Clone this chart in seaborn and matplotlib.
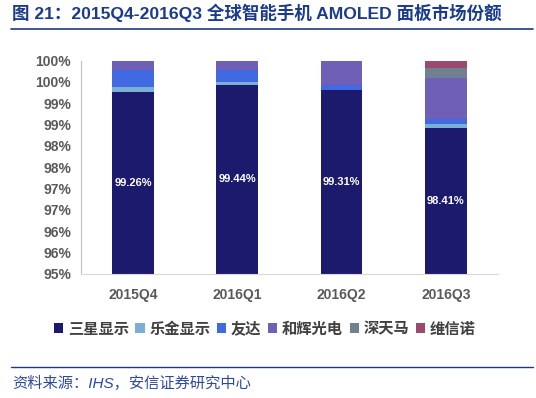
import numpy as np
import seaborn as sns
import matplotlib.pyplot as plt
from matplotlib.lines import Line2D
from matplotlib.patches import Patch

quarters = ['2015Q4', '2016Q1', '2016Q2', '2016Q3']
samsung = [99.26, 99.44, 99.31, 98.41]
lg = [0.13, 0.05, 0.00, 0.11]
auo = [0.38, 0.28, 0.12, 0.11]
everdisplay = [0.23, 0.23, 0.57, 0.96]
tianma = [0.00, 0.00, 0.00, 0.24]
visionox = [0.00, 0.00, 0.00, 0.17]
names = ['三星显示', '乐金显示', '友达', '和辉光电', '深天马', '维信诺']
colors = ['#1C1A6C', '#7BAFD6', '#4169E1', '#6F5FB6', '#708090', '#9A4A6E']
yticks = [95, 95.5, 96, 96.5, 97, 97.5, 98, 98.5, 99, 99.5, 100]
ytick_labels = ['95%', '96%', '96%', '97%', '97%', '98%', '98%', '99%', '99%', '100%', '100%']

sns.set_style('white')
plt.rcParams['font.family'] = ['Liberation Sans', 'Noto Sans CJK SC', 'DejaVu Sans']

fig = plt.figure(figsize=(5.36, 3.98), dpi=100)
ax = fig.add_axes([0.151, 0.3116, 0.778, 0.536])

series = [samsung, lg, auo, everdisplay, tianma, visionox]
cum = np.cumsum(np.array(series), axis=0)
# draw from the top of the stack down so lower segments cover upper ones
for i in range(len(series) - 1, -1, -1):
    sns.barplot(x=quarters, y=cum[i], color=colors[i], width=0.4,
                saturation=1, errorbar=None, ax=ax, linewidth=0)

for i, v in enumerate(samsung):
    ax.text(i, (95 + v) / 2, f'{v:.2f}%', ha='center', va='center',
            color='white', fontsize=8, fontweight='bold')

ax.set_ylim(95, 100)
ax.set_xlim(-0.5, 3.5)
ax.set_yticks(yticks)
ax.set_yticklabels(ytick_labels)
ax.tick_params(axis='y', direction='out', length=4, color='#BFBFBF', labelsize=10,
               labelcolor='#595959', pad=3)
ax.tick_params(axis='x', length=0, labelsize=10, labelcolor='#595959', pad=10)
for lab in ax.get_xticklabels() + ax.get_yticklabels():
    lab.set_fontweight('bold')
for s in ['top', 'right']:
    ax.spines[s].set_visible(False)
ax.spines['left'].set_color('#BFBFBF')
ax.spines['bottom'].set_color('#D9D9D9')
ax.set_xlabel('')
ax.set_ylabel('')

handles = [Patch(facecolor=c, edgecolor='none') for c in colors]
fig.legend(handles, names, loc='center', bbox_to_anchor=(0.494, 0.173), ncol=6,
           frameon=False, handlelength=0.6, handleheight=0.6, handletextpad=0.3,
           columnspacing=0.45, prop={'size': 11, 'weight': 'bold'}, labelcolor='#404040')

fig.text(0.022, 0.967, '图 21：2015Q4-2016Q3 全球智能手机 AMOLED 面板市场份额',
         fontsize=12.6, fontweight='bold', color='#1B3C8C', va='center', ha='left')
fig.add_artist(Line2D([0.02, 0.995], [0.928, 0.928], color='#1F3A7A', lw=1.2))
fig.add_artist(Line2D([0.02, 0.995], [0.078, 0.078], color='#1F3A7A', lw=1.0))
fig.text(0.022, 0.036, '资料来源：IHS，安信证券研究中心', fontsize=11, style='italic',
         color='#2E4A9A', va='center', ha='left')

fig.savefig('out.png', dpi=100)
